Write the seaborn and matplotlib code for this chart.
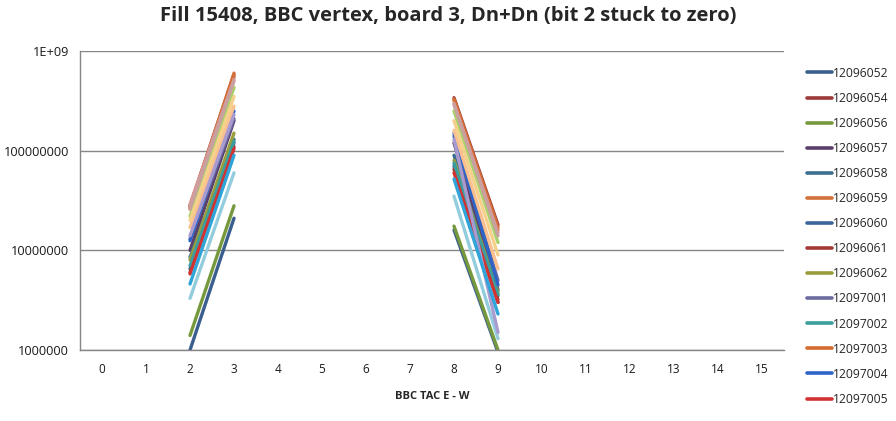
import numpy as np
import pandas as pd
import matplotlib
matplotlib.use('Agg')
import matplotlib.pyplot as plt
import seaborn as sns

# run numbers (legend only shows the first 14, the rest are cut off like in the original)
runs = ['12096052', '12096054', '12096056', '12096057', '12096058', '12096059',
        '12096060', '12096061', '12096062', '12097001', '12097002', '12097003',
        '12097004', '12097005', '12097006', '12097007', '12097008', '12097009',
        '12097010', '12097011', '12097012', '12097013']

colors = ['#3a5f8f', '#9b3a38', '#77993d', '#5b3f6b', '#3b6e8f', '#d2713a',
          '#3a6599', '#a33a3a', '#9a9e3a', '#6b6ba0', '#3a9e9e', '#d56b2f',
          '#2e64c8', '#d23232', '#a9d16b', '#d99694', '#fac08f', '#93cddd',
          '#a99bd0', '#2fa4d9', '#c9a0a0', '#f5d08a']

tac_bins = list(range(16))

# counts in the non-empty TAC bins (2,3) and (8,9)
counts_2 = [1.0e6, 2.8e7, 1.4e6, 1.0e7, 8.5e6, 2.7e7, 6.5e6, 6.0e6, 8.0e6, 1.3e7, 7.0e6,
            2.6e7, 1.25e7, 5.8e6, 2.2e7, 2.9e7, 1.7e7, 3.3e6, 1.4e7, 4.6e6, 2.6e7, 2.0e7]
counts_3 = [2.1e7, 5.8e8, 2.8e7, 2.0e8, 1.3e8, 6.0e8, 1.2e8, 1.1e8, 1.5e8, 2.1e8, 1.25e8,
            5.5e8, 2.5e8, 1.05e8, 4.3e8, 5.2e8, 2.8e8, 6.0e7, 2.3e8, 9.0e7, 5.0e8, 3.5e8]
counts_8 = [1.6e7, 3.4e8, 1.75e7, 1.2e8, 9.0e7, 3.3e8, 7.0e7, 6.5e7, 8.0e7, 1.4e8, 7.5e7,
            3.2e8, 1.5e8, 6.0e7, 2.5e8, 3.0e8, 1.6e8, 3.5e7, 1.3e8, 5.2e7, 2.9e8, 2.0e8]
counts_9 = [0.95e6, 1.8e7, 1.0e6, 4.0e6, 3.5e6, 1.7e7, 3.0e6, 3.2e6, 3.8e6, 5.0e6, 3.6e6,
            1.6e7, 4.5e6, 3.0e6, 1.2e7, 1.5e7, 6.5e6, 1.3e6, 1.5e6, 2.3e6, 1.4e7, 9.0e6]

rows = []
for i, r in enumerate(runs):
    rows.append({'run': r, 'seg': r + 'a', 'tac': 2, 'counts': counts_2[i]})
    rows.append({'run': r, 'seg': r + 'a', 'tac': 3, 'counts': counts_3[i]})
    rows.append({'run': r, 'seg': r + 'b', 'tac': 8, 'counts': counts_8[i]})
    rows.append({'run': r, 'seg': r + 'b', 'tac': 9, 'counts': counts_9[i]})
df = pd.DataFrame(rows)

sns.set_theme(style='white')
plt.rcParams['font.family'] = ['Open Sans', 'DejaVu Sans']

fig = plt.figure(figsize=(8.96, 4.21), dpi=100)
ax = fig.add_axes([0.0893, 0.1686, 0.7857, 0.7102])

sns.lineplot(data=df, x='tac', y='counts', hue='run', hue_order=runs,
             palette=dict(zip(runs, colors)), units='seg', estimator=None,
             linewidth=2.4, ax=ax, solid_capstyle='round')

ax.set_yscale('log')
ax.set_ylim(1e6, 1e9)
ax.set_xlim(-0.5, 15.5)
ax.yaxis.set_minor_locator(matplotlib.ticker.NullLocator())
ax.set_yticks([1e6, 1e7, 1e8, 1e9])
ax.set_yticklabels(['1000000', '10000000', '100000000', '1E+09'])
ax.set_xticks(tac_bins)
ax.set_xticklabels([str(t) for t in tac_bins])
ax.set_xticks(np.arange(-0.5, 16, 1), minor=True)
ax.tick_params(axis='x', which='major', length=0, pad=9, labelsize=8.5)
ax.tick_params(axis='x', which='minor', length=5, color='#868686', width=1, direction='out')
ax.tick_params(axis='y', which='major', length=5, color='#868686', width=1, direction='out',
               labelsize=9.2, pad=3)
for lab in ax.get_xticklabels() + ax.get_yticklabels():
    lab.set_color('#1a1a1a')

ax.grid(axis='y', color='#868686', linewidth=1)
ax.set_axisbelow(True)
for s in ['top', 'right']:
    ax.spines[s].set_visible(False)
for s in ['left', 'bottom']:
    ax.spines[s].set_color('#868686')
    ax.spines[s].set_linewidth(1)

ax.set_xlabel('BBC TAC E - W', fontsize=8, fontweight='bold', labelpad=11)
ax.set_ylabel('')
fig.suptitle('Fill 15408, BBC vertex, board 3, Dn+Dn (bit 2 stuck to zero)',
             fontsize=14.5, fontweight='bold', x=0.5, y=0.985)

handles, labels = ax.get_legend_handles_labels()
leg = ax.legend(handles[:14], labels[:14], loc='upper left',
                bbox_to_anchor=(0.895, 0.853), bbox_transform=fig.transFigure,
                frameon=False, fontsize=8.7, handlelength=2.1, handletextpad=0.1,
                labelspacing=1.0, borderaxespad=0)
for h in leg.get_lines():
    h.set_linewidth(2.6)

fig.savefig('out.png', dpi=100)
